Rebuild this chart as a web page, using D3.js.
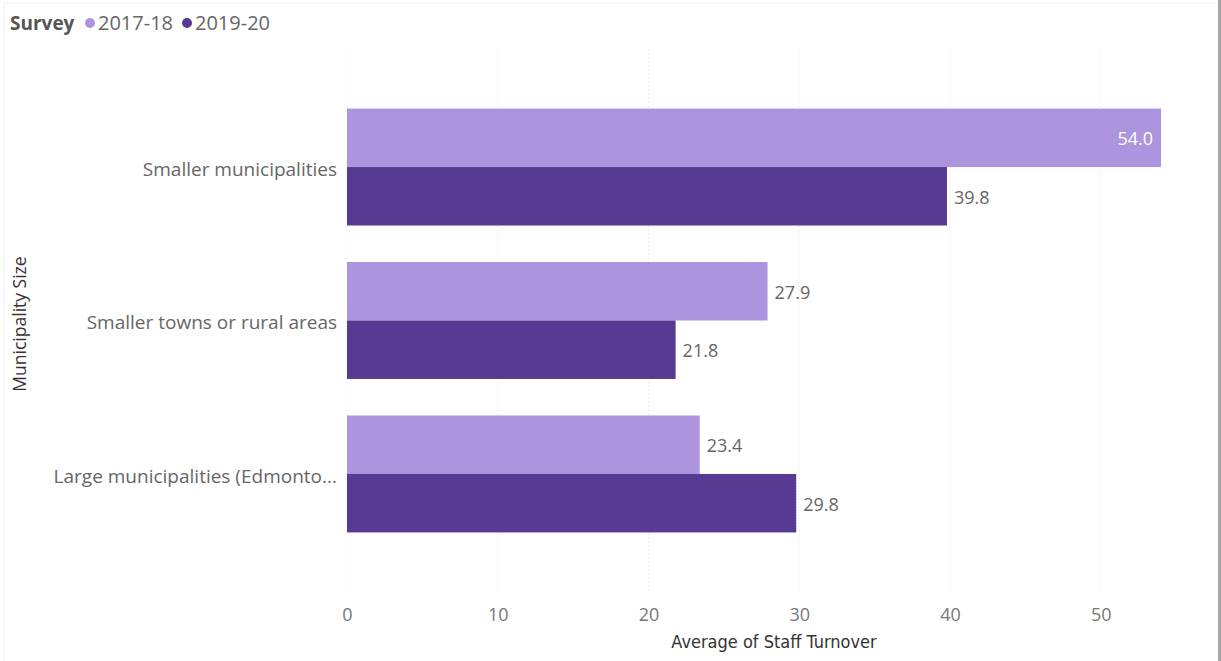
<!DOCTYPE html>
<html>
<head>
<meta charset="utf-8">
<script src="https://cdn.jsdelivr.net/npm/d3@7"></script>
<style>
  html, body { margin: 0; padding: 0; background: #fff; }
  svg { display: block; }
</style>
</head>
<body>
<svg id="chart" width="1221" height="661"></svg>
<script>
const categories = ["Smaller municipalities", "Smaller towns or rural areas", "Large municipalities (Edmonto..."];
const seriesNames = ["2017-18", "2019-20"];
const values2017 = [54.0, 27.9, 23.4];
const values2019 = [39.8, 21.8, 29.8];
const xTicks = [0, 10, 20, 30, 40, 50];
const colors = ["#AC94DE", "#573A92"];

const svg = d3.select("#chart");
const W = 1221, H = 661;
const font = "'Open Sans', 'Noto Sans', sans-serif";

// frame
svg.append("rect").attr("x", 0).attr("y", 0).attr("width", W).attr("height", H).attr("fill", "#fff");
svg.append("line").attr("x1", 4).attr("x2", 4).attr("y1", 3).attr("y2", H).attr("stroke", "#f1f1f1");
svg.append("line").attr("x1", 4).attr("x2", 1218).attr("y1", 3).attr("y2", 3).attr("stroke", "#f1f1f1");
svg.append("rect").attr("x", 1218).attr("y", 0).attr("width", 3).attr("height", H).attr("fill", "#a6a6a6");

const x = d3.scaleLinear().domain([0, 54]).range([347, 1161]);
const y = d3.scaleBand().domain(categories).range([61, 580]).paddingInner(0.238).paddingOuter(0.31);
const y1 = d3.scaleBand().domain(seriesNames).range([0, y.bandwidth()]);

// gridlines
svg.append("g").selectAll("line").data(xTicks).join("line")
  .attr("x1", d => x(d)).attr("x2", d => x(d))
  .attr("y1", 50).attr("y2", 592)
  .attr("stroke", "#dcdcdc").attr("stroke-dasharray", "1,3");

// x axis
const xAxis = d3.axisBottom(x).tickValues(xTicks).tickSize(0).tickPadding(0).tickFormat(d3.format("d"));
const gx = svg.append("g").attr("transform", "translate(0,608)").call(xAxis);
gx.select(".domain").remove();
gx.selectAll("text").attr("font-family", font).attr("font-size", 18).attr("fill", "#777");

// y axis
const yAxis = d3.axisLeft(y).tickSize(0).tickPadding(10);
const gy = svg.append("g").attr("transform", "translate(347,0)").call(yAxis);
gy.select(".domain").remove();
gy.selectAll("text").attr("font-family", font).attr("font-size", 19).attr("fill", "#666").attr("dy", "0.45em");

// bars
const data = categories.map((c, i) => ({cat: c, vals: [values2017[i], values2019[i]]}));
const groups = svg.append("g").selectAll("g").data(data).join("g")
  .attr("transform", d => `translate(0,${y(d.cat)})`);
groups.selectAll("rect").data(d => d.vals.map((v, j) => ({s: seriesNames[j], v, j}))).join("rect")
  .attr("x", x(0))
  .attr("y", d => y1(d.s))
  .attr("width", d => x(d.v) - x(0))
  .attr("height", y1.bandwidth())
  .attr("fill", d => colors[d.j]);

// value labels
const maxV = d3.max([...values2017, ...values2019]);
groups.selectAll("text").data(d => d.vals.map((v, j) => ({s: seriesNames[j], v, j}))).join("text")
  .attr("x", d => d.v === maxV ? x(d.v) - 8 : x(d.v) + 7)
  .attr("y", d => y1(d.s) + y1.bandwidth() / 2)
  .attr("dy", "0.42em")
  .attr("text-anchor", d => d.v === maxV ? "end" : "start")
  .attr("font-family", font).attr("font-size", 18)
  .attr("fill", d => d.v === maxV ? "#fff" : "#666")
  .text(d => d3.format(".1f")(d.v));

// axis titles
svg.append("text").attr("x", 774).attr("y", 648).attr("text-anchor", "middle")
  .attr("font-family", "'DejaVu Sans Condensed', 'Roboto', sans-serif").attr("font-size", 18).attr("fill", "#333")
  .text("Average of Staff Turnover");
svg.append("text").attr("transform", "translate(26,324) rotate(-90)").attr("text-anchor", "middle")
  .attr("font-family", font).attr("font-size", 17.5).attr("fill", "#333")
  .text("Municipality Size");

// legend
const lg = svg.append("g");
lg.append("text").attr("x", 10).attr("y", 30).attr("font-family", font).attr("font-size", 19)
  .attr("font-weight", "bold").attr("fill", "#555").text("Survey");
const legX = [90, 187];
seriesNames.forEach((s, i) => {
  lg.append("circle").attr("cx", legX[i]).attr("cy", 23).attr("r", 5).attr("fill", colors[i]);
  lg.append("text").attr("x", legX[i] + 8).attr("y", 30).attr("font-family", font).attr("font-size", 20)
    .attr("fill", "#666").text(s);
});
</script>
</body>
</html>
